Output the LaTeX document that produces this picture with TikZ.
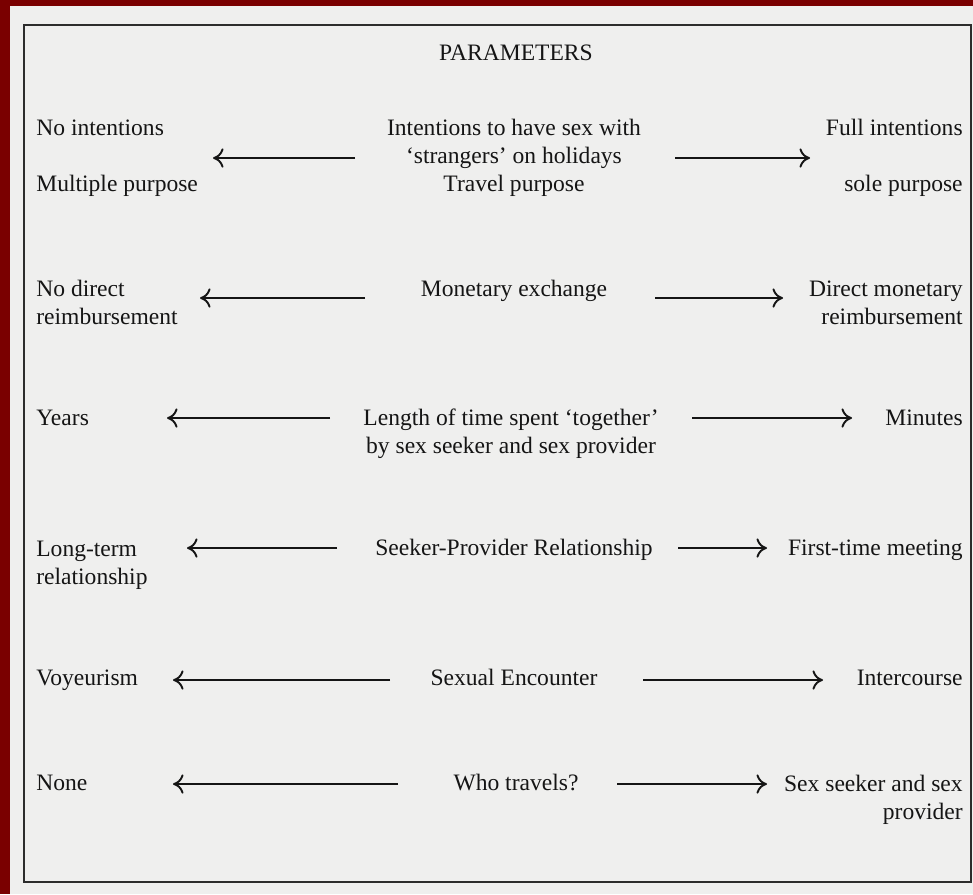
\documentclass[tikz,border=0pt]{standalone}
\usepackage{fontspec}
\setmainfont{Liberation Serif}
\usepackage{tikz}
\usetikzlibrary{calc,positioning,arrows.meta}
\pgfdeclarelayer{background}
\pgfsetlayers{background,main}
\definecolor{framered}{HTML}{7A0000}
\definecolor{page}{HTML}{EFEFEE}
\definecolor{ink}{HTML}{151515}

\begin{document}
\begin{tikzpicture}[x=0.2mm,y=-0.2mm,
  font=\fontsize{13.4}{15.9}\selectfont,
  every node/.style={inner sep=0pt,text=ink},
  arr/.style={-{To[length=6pt,width=11pt]},line width=1.1pt,draw=ink}]
\useasboundingbox (0,0) rectangle (973,894);

\begin{pgfonlayer}{background}
\fill[page] (0,0) rectangle (973,894);
\fill[framered] (0,0) rectangle (973,6);
\fill[framered] (0,0) rectangle (10,894);
\end{pgfonlayer}
\draw[line width=1.2pt,draw=ink!90] (24,25) rectangle (971,882);

\node (title) at (516,60) [anchor=base] {PARAMETERS};

% intentions
\node (left1) at (36,135) [anchor=base west] {No intentions};
\node (left1b) at (36,191) [anchor=base west] {Multiple purpose};
\node (mid1) at (514,191) [anchor=base,align=center] {Intentions to have sex with\\`strangers' on holidays\\Travel purpose};
\node (right1) at (963,135) [anchor=base east] {Full intentions};
\node (right1b) at (963,191) [anchor=base east] {sole purpose};
% money
\node (left2) at (36,324) [anchor=base west,align=left] {No direct\\reimbursement};
\node (mid2) at (514,296) [anchor=base] {Monetary exchange};
\node (right2) at (963,324) [anchor=base east,align=right] {Direct monetary\\reimbursement};
% time
\node (left3) at (36,425) [anchor=base west] {Years};
\node (mid3) at (511,453) [anchor=base,align=center] {Length of time spent `together'\\by sex seeker and sex provider};
\node (right3) at (963,425) [anchor=base east] {Minutes};
% relationship
\node (left4) at (36,584) [anchor=base west,align=left] {Long-term\\relationship};
\node (mid4) at (514,555) [anchor=base] {Seeker-Provider Relationship};
\node (right4) at (963,555) [anchor=base east] {First-time meeting};
% encounter
\node (left5) at (36,685) [anchor=base west] {Voyeurism};
\node (mid5) at (514,685) [anchor=base] {Sexual Encounter};
\node (right5) at (963,685) [anchor=base east] {Intercourse};
% travel
\node (left6) at (36,790) [anchor=base west] {None};
\node (mid6) at (516,790) [anchor=base] {Who travels?};
\node (right6) at (963,819) [anchor=base east,align=right] {Sex seeker and sex\\provider};

% arrow ends
\coordinate (l1s) at (355,158); \coordinate (l1e) at (213,158);
\coordinate (r1s) at (675,158); \coordinate (r1e) at (810,158);
\coordinate (l2s) at (365,298); \coordinate (l2e) at (200,298);
\coordinate (r2s) at (655,298); \coordinate (r2e) at (783,298);
\coordinate (l3s) at (330,418); \coordinate (l3e) at (167,418);
\coordinate (r3s) at (692,418); \coordinate (r3e) at (852,418);
\coordinate (l4s) at (337,548); \coordinate (l4e) at (187,548);
\coordinate (r4s) at (678,548); \coordinate (r4e) at (767,548);
\coordinate (l5s) at (390,680); \coordinate (l5e) at (173,680);
\coordinate (r5s) at (643,680); \coordinate (r5e) at (823,680);
\coordinate (l6s) at (398,784); \coordinate (l6e) at (173,784);
\coordinate (r6s) at (617,784); \coordinate (r6e) at (767,784);

\draw[arr] (l1s) -- (l1e);
\draw[arr] (r1s) -- (r1e);
\draw[arr] (l2s) -- (l2e);
\draw[arr] (r2s) -- (r2e);
\draw[arr] (l3s) -- (l3e);
\draw[arr] (r3s) -- (r3e);
\draw[arr] (l4s) -- (l4e);
\draw[arr] (r4s) -- (r4e);
\draw[arr] (l5s) -- (l5e);
\draw[arr] (r5s) -- (r5e);
\draw[arr] (l6s) -- (l6e);
\draw[arr] (r6s) -- (r6e);
\end{tikzpicture}
\end{document}
